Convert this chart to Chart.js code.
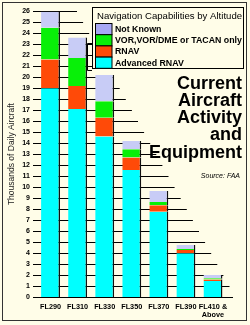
<!DOCTYPE html>
<html>
<head>
<meta charset="utf-8">
<script src="https://cdn.jsdelivr.net/npm/chart.js@4"></script>
<style>
  html, body { margin: 0; padding: 0; background: #fffde8; }
  canvas { display: block; }
</style>
</head>
<body>
<canvas id="c" width="250" height="325"></canvas>
<script>
// ---------------- DATA ----------------
const altitudes = [["FL290"], ["FL310"], ["FL330"], ["FL350"], ["FL370"], ["FL390"], ["FL410 &", "Above"]];
const advancedRnav = [19.0, 17.1, 14.6, 11.55, 7.75, 3.97, 1.45];
const rnav        = [2.6, 2.1, 1.7, 1.15, 0.6, 0.3, 0.15];
const vorOnly     = [2.9, 2.55, 1.5, 0.75, 0.3, 0.1, 0.1];
const notKnown    = [1.45, 1.85, 2.4, 0.75, 1.0, 0.37, 0.3];
const yTicks = [0, 1, 2, 3, 4, 5, 6, 7, 8, 9, 10, 11, 12, 13, 14, 15, 16, 17, 18, 19, 20, 21, 22, 23, 24, 25, 26];

const CREAM = "#fffde8";
const FONT = "'Liberation Sans', Arial, sans-serif";

function series(label, data, color, swatch) {
  return {
    label: label,
    data: data,
    backgroundColor: color,
    swatch: swatch || color,
    borderColor: "#111",
    borderWidth: { top: 0, right: 1.5, bottom: 0, left: 0 },
    borderSkipped: false,
    barPercentage: 0.7,
    categoryPercentage: 1.0
  };
}

// ---------------- PLUGINS ----------------
// paper + frame
const paper = {
  id: "paper",
  beforeDraw(chart) {
    const c = chart.ctx;
    c.save();
    c.fillStyle = CREAM;
    c.fillRect(0, 0, chart.width, chart.height);
    c.strokeStyle = "#333";
    c.lineWidth = 1;
    c.strokeRect(2.5, 2.5, 244, 318);
    c.restore();
  }
};

// stepped "shelf" lines behind the bars
const shelves = {
  id: "shelves",
  beforeDatasetsDraw(chart) {
    const c = chart.ctx;
    const ys = chart.scales.y;
    const x0 = chart.chartArea.left - 4;
    c.save();
    c.strokeStyle = "#000";
    c.lineWidth = 1;
    yTicks.forEach(v => {
      const y = Math.round(ys.getPixelForValue(v)) + 0.5;
      const x1 = v === 0 ? 233 : 77 + (26 - v) * 6.1;
      c.beginPath();
      c.moveTo(x0, y);
      c.lineTo(x1, y);
      c.stroke();
    });
    c.restore();
  }
};

// legend box, headline, source
const extras = {
  id: "extras",
  afterDraw(chart) {
    const c = chart.ctx;
    c.save();

    // shadow of legend box
    c.strokeStyle = "#000";
    c.lineWidth = 1;
    c.beginPath();
    c.moveTo(92, 43.5); c.lineTo(87.5, 43.5); c.lineTo(87.5, 70.5); c.lineTo(92, 70.5);
    c.stroke();

    // legend box
    c.fillStyle = CREAM;
    c.fillRect(92, 7, 152, 61);
    c.strokeRect(92.5, 7.5, 151, 61);

    c.fillStyle = "#000";
    c.textBaseline = "middle";
    c.textAlign = "left";
    c.font = "9.6px " + FONT;
    c.fillText("Navigation Capabilities by Altitude", 97, 16, 146);

    const items = chart.data.datasets.slice().reverse();
    const rowH = 11.2;
    items.forEach((ds, i) => {
      const top = 23 + i * rowH;
      c.fillStyle = ds.swatch;
      c.fillRect(95.5, top + 0.5, 16.5, rowH);
      c.strokeRect(95.5, top + 0.5, 16.5, rowH);
      c.fillStyle = "#000";
      c.font = "bold 8.8px " + FONT;
      c.fillText(ds.label, 115, top + rowH / 2 + 1, 128);
    });

    // headline
    c.textAlign = "right";
    c.textBaseline = "alphabetic";
    c.font = "bold 18px " + FONT;
    const head = ["Current", "Aircraft", "Activity", "and", "Equipment"];
    const base = [89, 106, 123, 140, 158];
    head.forEach((t, i) => c.fillText(t, 242, base[i]));

    c.font = "italic 7px " + FONT;
    c.textBaseline = "middle";
    c.fillText("Source: FAA", 240, 176);
    c.restore();
  }
};

// ---------------- CHART ----------------
new Chart(document.getElementById("c"), {
  type: "bar",
  data: {
    labels: altitudes,
    datasets: [
      series("Advanced RNAV", advancedRnav, "#00ffff"),
      series("RNAV", rnav, "#ff4a08"),
      series("VOR,VOR/DME or TACAN only", vorOnly, "#08f008"),
      series("Not Known", notKnown, "#c8ccf6", "#a8a8f4")
    ]
  },
  options: {
    responsive: false,
    animation: false,
    layout: { padding: { left: 0, right: 23.5, top: 11, bottom: 0 } },
    plugins: {
      legend: { display: false },
      tooltip: { enabled: false }
    },
    datasets: { bar: { clip: false } },
    scales: {
      x: {
        stacked: true,
        afterFit: s => { s.height = 28; },
        grid: { display: false, drawTicks: false },
        border: { display: false },
        ticks: {
          padding: 6,
          color: "#000",
          autoSkip: false,
          maxRotation: 0,
          font: { family: FONT, size: 7.3, weight: "bold", lineHeight: 1.1 }
        }
      },
      y: {
        stacked: true,
        min: 0,
        max: 26,
        afterFit: s => { s.width = 37; },
        afterBuildTicks: s => { s.ticks = yTicks.map(v => ({ value: v })); },
        grid: { display: false, drawTicks: false },
        border: { display: false },
        ticks: {
          padding: 7,
          color: "#000",
          autoSkip: false,
          font: { family: FONT, size: 7, weight: "bold" }
        },
        title: {
          display: true,
          text: "Thousands of Daily Aircraft",
          color: "#222",
          padding: { top: 7, bottom: 0 },
          font: { family: FONT, size: 8.5 }
        }
      }
    }
  },
  plugins: [paper, shelves, extras]
});
</script>
</body>
</html>
